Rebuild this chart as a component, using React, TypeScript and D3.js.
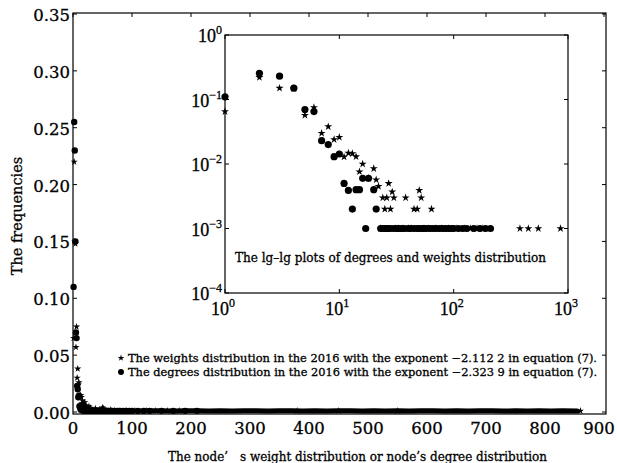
import * as d3 from "d3";

// [node value, frequency]
const degreePoints: [number, number][] = [
  [1, 0.11], [2, 0.255], [3, 0.23], [4, 0.15], [5, 0.07], [6, 0.065], [7, 0.023], [8, 0.02],
  [9, 0.013], [10, 0.0143], [11, 0.005], [12, 0.0039], [13, 0.002], [14, 0.004], [15, 0.004],
  [16, 0.006], [17, 0.001], [18, 0.006], [20, 0.004], [21, 0.002], [23, 0.001], [24, 0.001],
  [25, 0.001], [26, 0.001], [27, 0.001], [28, 0.001], [30, 0.001], [32, 0.001], [33, 0.001],
  [35, 0.001], [37, 0.001], [40, 0.001], [42, 0.001], [45, 0.001], [48, 0.001], [50, 0.001],
  [53, 0.001], [55, 0.001], [58, 0.001], [62, 0.001], [66, 0.001], [70, 0.001], [75, 0.001],
  [80, 0.001], [85, 0.001], [90, 0.001], [95, 0.001], [100, 0.001], [110, 0.001], [120, 0.001],
  [130, 0.001], [150, 0.001], [170, 0.001], [190, 0.001], [210, 0.001],
];

const weightPoints: [number, number][] = [
  [1, 0.065], [2, 0.22], [3, 0.15], [4, 0.148], [5, 0.057], [6, 0.075], [7, 0.03], [8, 0.038],
  [9, 0.024], [10, 0.026], [11, 0.0129], [12, 0.0148], [13, 0.0145], [14, 0.013], [15, 0.0076],
  [16, 0.01], [18, 0.006], [20, 0.0085], [21, 0.0057], [22, 0.0045], [23, 0.001], [24, 0.003],
  [25, 0.002], [26, 0.003], [27, 0.005], [28, 0.002], [29, 0.0037], [30, 0.003], [31, 0.001],
  [33, 0.001], [36, 0.001], [38, 0.003], [40, 0.001], [43, 0.001], [45, 0.002], [48, 0.002],
  [50, 0.0039], [52, 0.003], [55, 0.001], [60, 0.001], [64, 0.002], [70, 0.001], [78, 0.001],
  [90, 0.001], [105, 0.001], [125, 0.001], [140, 0.001], [160, 0.001], [180, 0.001],
  [380, 0.001], [450, 0.001], [550, 0.001], [860, 0.001],
];

// the dense near-zero band along the bottom of the main panel
const tailPoints: [number, number][] = [
  [15, 0.004], [30, 0.002], [50, 0.0015], [70, 0.001], [90, 0.0012], [110, 0.0008], [130, 0.001],
  [150, 0.0012], [170, 0.0009], [190, 0.001], [210, 0.0011], [230, 0.0008], [250, 0.001],
  [270, 0.0009], [290, 0.0011], [310, 0.001], [330, 0.0008], [350, 0.001], [370, 0.0011],
  [390, 0.0009], [410, 0.001], [430, 0.0008], [450, 0.001], [470, 0.0011], [490, 0.0009],
  [510, 0.001], [530, 0.0008], [550, 0.001], [570, 0.0009], [590, 0.0011], [610, 0.001],
  [630, 0.0008], [650, 0.001], [670, 0.0009], [690, 0.001], [710, 0.0011], [730, 0.0009],
  [750, 0.001], [770, 0.0008], [790, 0.001], [810, 0.0009], [830, 0.001], [855, 0.0008],
];

const mainYTicks = [0, 0.05, 0.1, 0.15, 0.2, 0.25, 0.3, 0.35];
const mainXTicks = [0, 100, 200, 300, 400, 500, 600, 700, 800, 900];
const insetXTicks = [1, 10, 100, 1000];
const insetYTicks = [1, 0.1, 0.01, 0.001, 0.0001];

const legendLabels = [
  "The weights distribution in the 2016 with the exponent \u22122.112 2 in equation (7).",
  "The degrees distribution in the 2016 with the exponent \u22122.323 9 in equation (7).",
];
const xTitle = "The node\u2019\u2003s weight distribution or node\u2019s degree distribution";
const yTitle = "The frequencies";
const insetTitle = "The lg\u2013lg plots of degrees and weights distribution";

const SERIF = "'DejaVu Serif', serif";
const TIMES = "'Liberation Serif', 'Times New Roman', serif";

export default function App() {
  const W = 617, H = 463;
  const m = { left: 73, right: 604, top: 13, bottom: 414 };
  const x = d3.scaleLinear().domain([0, 900]).range([m.left, m.right]);
  const y = d3.scaleLinear().domain([0, 0.35]).range([412, 14]);

  const ins = { left: 225, right: 568, top: 35, bottom: 293 };
  const lx = d3.scaleLog().domain([1, 1000]).range([ins.left, ins.right]);
  const ly = d3.scaleLog().domain([0.0001, 1]).range([ins.bottom, ins.top]);

  const star = d3.symbol().type(d3.symbolStar);
  const tailLine = d3.line<[number, number]>().x((d) => x(d[0])).y((d) => y(d[1]));

  const exp = (v: number) => Math.round(Math.log10(v));
  const heavy = { stroke: "#000", strokeWidth: 0.3 };

  return (
    <svg width={W} height={H} style={{ position: "absolute", left: 0, top: 0, background: "#fff" }}
      fontFamily={SERIF}>
      <rect width={W} height={H} fill="#fff" />
      {/* main frame */}
      <rect x={m.left} y={m.top} width={m.right - m.left + 2} height={m.bottom - m.top}
        fill="none" stroke="#000" strokeWidth={1.2} />
      {mainYTicks.map((t) => (
        <g key={"my" + t}>
          <line x1={m.left} x2={m.left + 4} y1={y(t)} y2={y(t)} stroke="#000" />
          <line x1={m.right + 2} x2={m.right - 2} y1={y(t)} y2={y(t)} stroke="#000" />
          <text x={m.left - 3} y={y(t) + 7} fontSize={16.5} textAnchor="end" fill="#000" {...heavy}>
            {t.toFixed(2)}
          </text>
        </g>
      ))}
      {mainXTicks.map((t) => (
        <g key={"mx" + t}>
          <line x1={x(t)} x2={x(t)} y1={m.top} y2={m.top + 4} stroke="#000" />
          <text x={Math.min(x(t), W - 18)} y={434} fontSize={16.5} textAnchor="middle" fill="#000"
            {...heavy}>
            {t}
          </text>
        </g>
      ))}
      <text x={18} y={216} fontSize={14.5} textAnchor="middle" transform="rotate(-90 18 216)"
        dominantBaseline="middle" fill="#000" {...heavy}>{yTitle}</text>
      <text x={168} y={461} fontSize={12.2} textLength={379} lengthAdjust="spacingAndGlyphs" fill="#000"
        {...heavy}>{xTitle}</text>

      {/* main data */}
      <path d={tailLine(tailPoints) ?? ""} fill="none" stroke="#000" strokeWidth={5}
        strokeLinejoin="round" strokeLinecap="round" />
      {degreePoints.map((d, i) => (
        <circle key={"md" + i} cx={x(d[0])} cy={y(d[1])} r={3.2} fill="#000" />
      ))}
      {weightPoints.map((d, i) => (
        <path key={"mw" + i} d={star.size(16)() ?? ""} transform={`translate(${x(d[0])},${y(d[1])})`}
          fill="#000" />
      ))}

      {/* legend */}
      <path d={star.size(14)() ?? ""} transform="translate(121,358)" fill="#000" />
      <circle cx={121} cy={372} r={3} fill="#000" />
      {legendLabels.map((s, i) => (
        <text key={s} x={128} y={362 + i * 14} fontSize={11.2} textLength={469}
          lengthAdjust="spacingAndGlyphs" fill="#000" {...heavy}>{s}</text>
      ))}

      {/* inset */}
      <rect x={ins.left} y={ins.top} width={ins.right - ins.left} height={ins.bottom - ins.top}
        fill="#fff" stroke="#000" strokeWidth={1.2} />
      {insetYTicks.map((t) => (
        <g key={"iy" + t}>
          <line x1={ins.left} x2={ins.left + 4} y1={ly(t)} y2={ly(t)} stroke="#000" />
          <line x1={ins.right} x2={ins.right - 4} y1={ly(t)} y2={ly(t)} stroke="#000" />
          <text x={ins.left - 3} y={ly(t) + 7} fontSize={18} textAnchor="end" fill="#000"
            fontFamily={TIMES} {...heavy}>
            10<tspan dy={-8} fontSize={12}>{exp(t) === 0 ? "0" : "\u2212" + -exp(t)}</tspan>
          </text>
        </g>
      ))}
      {insetXTicks.map((t) => (
        <g key={"ix" + t}>
          <line x1={lx(t)} x2={lx(t)} y1={ins.bottom} y2={ins.bottom - 4} stroke="#000" />
          <line x1={lx(t)} x2={lx(t)} y1={ins.top} y2={ins.top + 4} stroke="#000" />
          <text x={lx(t) - 2} y={315} fontSize={18} textAnchor="middle" fill="#000"
            fontFamily={TIMES} {...heavy}>
            10<tspan dy={-8} fontSize={12}>{exp(t)}</tspan>
          </text>
        </g>
      ))}
      {degreePoints.map((d, i) => (
        <circle key={"id" + i} cx={lx(d[0])} cy={ly(d[1])} r={3.6} fill="#000" />
      ))}
      {weightPoints.map((d, i) => (
        <path key={"iw" + i} d={star.size(20)() ?? ""} transform={`translate(${lx(d[0])},${ly(d[1])})`}
          fill="#000" />
      ))}
      <text x={235} y={262} fontSize={12.1} textLength={311} lengthAdjust="spacingAndGlyphs" fill="#000"
        {...heavy}>{insetTitle}</text>
    </svg>
  );
}
